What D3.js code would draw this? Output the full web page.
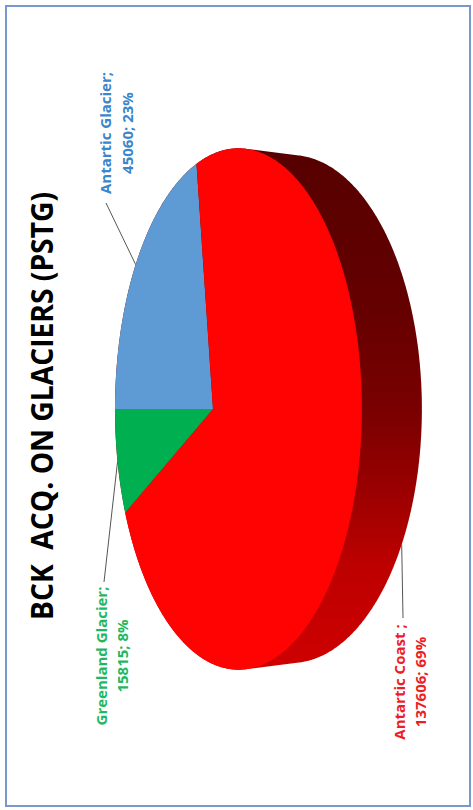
<!DOCTYPE html>
<html><head><meta charset="utf-8">
<script src="https://cdn.jsdelivr.net/npm/d3@7"></script>
<style>html,body{margin:0;padding:0;background:#fff;} svg{display:block}</style>
</head><body><svg id="c" width="473" height="810"></svg>
<script>
const categories = ["Antartic Glacier", "Antartic Coast ", "Greenland Glacier"];
const values = [45060, 137606, 15815];
const topColors = ["#5e9bd5", "#ff0303", "#00b050"];
const labelColors = ["#3a85cc", "#ee1c25", "#1fb862"];
const title = "BCK  ACQ. ON GLACIERS (PSTG)";

const svg = d3.select("#c");
svg.append("rect").attr("x",0).attr("y",0).attr("width",473).attr("height",810).attr("fill","#fff");

const defs = svg.append("defs");
const grad = defs.append("linearGradient").attr("id","side").attr("gradientUnits","userSpaceOnUse")
  .attr("x1",665).attr("y1",0).attr("x2",140).attr("y2",0);
[[0,"#560000"],[0.3,"#640000"],[0.52,"#7c0000"],[0.68,"#a00000"],[0.8,"#bd0000"],[1,"#cf0000"]]
  .forEach(s=>grad.append("stop").attr("offset",s[0]).attr("stop-color",s[1]));

const g = svg.append("g").attr("transform","translate(0,810) rotate(-90)");

// 3D projection of the pie (unrotated coordinates)
const cu=401, cv=213, F=1097, D=4.3, elev=27.6*Math.PI/180, H=0.234;
function proj(theta, z){
  const X=Math.sin(theta), Y=Math.cos(theta);
  const yc=Y*Math.sin(elev)+z*Math.cos(elev);
  const depth=D+Y*Math.cos(elev)-z*Math.sin(elev);
  return [cu+F*X/depth, cv-F*yc/depth];
}

const pie = d3.pie().sort(null).value(d=>d).startAngle(0).endAngle(2*Math.PI);
const arcs = pie(values);
const total = d3.sum(values);
const pct = d3.format(".0%");

// side (hull of top and bottom rims)
const rim=[];
for(let i=0;i<720;i++){const t=i/720*2*Math.PI; rim.push(proj(t,0)); rim.push(proj(t,-H));}
const hull = d3.polygonHull(rim);
g.append("path").attr("d","M"+hull.map(p=>p.join(",")).join("L")+"Z").attr("fill","url(#side)");

// top face slices
const line = d3.line();
arcs.forEach((a,i)=>{
  const pts=[[cu,cv]];
  const n=Math.max(4,Math.ceil((a.endAngle-a.startAngle)/(Math.PI/360)));
  for(let k=0;k<=n;k++){const t=a.startAngle+(a.endAngle-a.startAngle)*k/n; pts.push(proj(t,0));}
  g.append("path").attr("d",line(pts)+"Z").attr("fill",topColors[i]);
});

// title
g.append("text").attr("x",404).attr("y",53).attr("text-anchor","middle")
  .attr("font-family","Open Sans").attr("font-weight",700).attr("font-size",31)
  .attr("textLength",428).attr("lengthAdjust","spacingAndGlyphs")
  .style("white-space","pre").attr("fill","#000").text(title);

// labels & leader lines
const labelPos = [[677,111,133],[128,405,426],[154,107,128]];
const leaderStart = [[607,106],[192,403],[228,104]];
arcs.forEach((a,i)=>{
  const mid=(a.startAngle+a.endAngle)/2;
  const end = Math.cos(mid)<0 ? proj(mid,-H) : proj(mid,0);
  g.append("path").attr("d",line([leaderStart[i],end])).attr("stroke","#555").attr("stroke-width",1).attr("fill","none");
  const lp=labelPos[i];
  const t=g.append("text").attr("text-anchor","middle").attr("font-family","Open Sans")
    .attr("font-weight",700).attr("font-size",15).attr("fill",labelColors[i]).style("white-space","pre");
  t.append("tspan").attr("x",lp[0]).attr("y",lp[1]).text(categories[i]+";");
  t.append("tspan").attr("x",lp[0]).attr("y",lp[2]).text(values[i]+"; "+pct(values[i]/total));
});

// frame
svg.append("rect").attr("x",6).attr("y",6).attr("width",464).attr("height",800)
  .attr("fill","none").attr("stroke","#7b98cc").attr("stroke-width",2);
</script></body></html>
